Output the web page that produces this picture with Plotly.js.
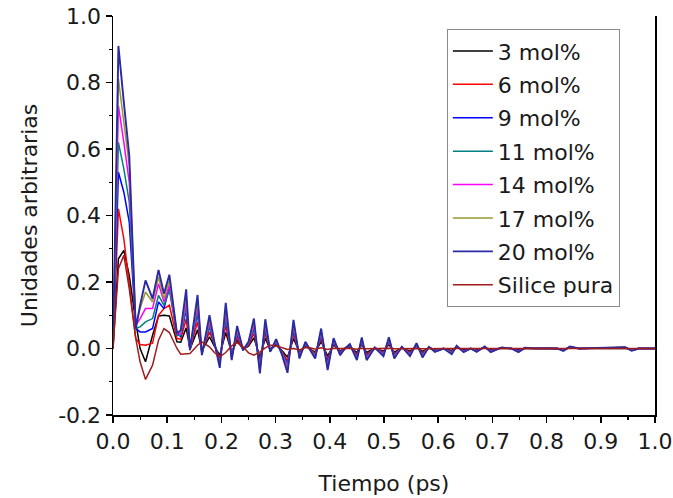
<!DOCTYPE html>
<html>
<head>
<meta charset="utf-8">
<script src="https://cdn.plot.ly/plotly-3.0.1.min.js"></script>
<style>html,body{margin:0;padding:0;background:#fff;}#chart{width:673px;height:498px;}</style>
</head>
<body>
<div id="chart"></div>
<script>
const t = [0, 0.01, 0.02, 0.03, 0.042, 0.05, 0.06, 0.073, 0.084, 0.094, 0.104, 0.118,
  0.125, 0.135, 0.142, 0.156, 0.164, 0.178, 0.187, 0.197, 0.208, 0.219,
  0.229, 0.24, 0.25, 0.26, 0.271, 0.281, 0.29, 0.301, 0.312, 0.322,
  0.333, 0.344, 0.355, 0.364, 0.373, 0.384, 0.396, 0.407, 0.419, 0.428,
  0.437, 0.45, 0.459, 0.468, 0.483, 0.499, 0.509, 0.519, 0.533, 0.548,
  0.56, 0.571, 0.583, 0.594, 0.61, 0.625, 0.634, 0.647, 0.66, 0.671,
  0.686, 0.697, 0.717, 0.735, 0.748, 0.76, 0.78, 0.8, 0.82, 0.831,
  0.843, 0.86, 0.88, 0.9, 0.92, 0.945, 0.957, 0.97, 1.0];

const s3 = [0, 0.27, 0.295, 0.22, 0.08, 0.0, -0.04, 0.04, 0.098, 0.1, 0.098, 0.02,
  0.019, 0.062, -0.002, 0.056, -0.007, 0.035, 0.007, -0.02, 0.048, -0.012,
  0.024, -0.002, 0.007, 0.032, -0.026, 0.031, -0.004, 0.01, -0.007, -0.026,
  0.03, -0.011, 0.007, -0.002, -0.011, 0.021, -0.023, 0.011, -0.007, 0.0,
  0.005, -0.012, 0.012, -0.012, 0.001, -0.008, 0.012, -0.011, 0.002, -0.008,
  0.006, -0.009, 0.002, -0.004, 0.0, -0.006, 0.003, -0.004, 0.0, -0.004,
  0.002, -0.004, 0.001, 0.0, -0.004, 0.001, 0.0, 0.0, 0.0, -0.002,
  0.002, 0.0, 0.0, 0.0, 0.001, 0.001, -0.002, 0.0, 0.0];

const s6 = [0, 0.42, 0.33, 0.19, 0.03, 0.012, 0.01, 0.016, 0.1, 0.12, 0.13, 0.03,
  0.028, 0.089, -0.003, 0.08, -0.01, 0.05, 0.01, -0.029, 0.068, -0.018,
  0.034, -0.003, 0.01, 0.045, -0.038, 0.044, -0.005, 0.014, -0.01, -0.037,
  0.043, -0.015, 0.01, -0.003, -0.015, 0.03, -0.033, 0.016, -0.01, 0.0,
  0.007, -0.018, 0.017, -0.018, 0.002, -0.012, 0.017, -0.015, 0.003, -0.012,
  0.008, -0.014, 0.003, -0.005, 0.0, -0.009, 0.004, -0.006, 0.0, -0.005,
  0.003, -0.006, 0.002, 0.0, -0.006, 0.001, 0.0, 0.0, 0.0, -0.004,
  0.003, 0.0, 0.0, 0.0, 0.001, 0.002, -0.004, 0.0, 0.0];

const s9 = [0, 0.53, 0.47, 0.38, 0.06, 0.05, 0.05, 0.06, 0.14, 0.12, 0.185, 0.045,
  0.036, 0.116, -0.003, 0.105, -0.013, 0.065, 0.013, -0.038, 0.089, -0.023,
  0.044, -0.003, 0.013, 0.059, -0.049, 0.057, -0.007, 0.018, -0.013, -0.047,
  0.056, -0.02, 0.013, -0.003, -0.02, 0.039, -0.042, 0.02, -0.013, 0.0,
  0.008, -0.023, 0.021, -0.023, 0.002, -0.015, 0.022, -0.02, 0.003, -0.015,
  0.01, -0.018, 0.003, -0.007, 0.0, -0.011, 0.005, -0.007, 0.0, -0.007,
  0.004, -0.007, 0.002, 0.0, -0.007, 0.001, 0.0, 0.001, 0.0, -0.005,
  0.004, 0.0, 0.001, 0.0, 0.001, 0.003, -0.005, 0.0, 0.0];

const s11 = [0, 0.62, 0.54, 0.44, 0.06, 0.065, 0.08, 0.09, 0.16, 0.13, 0.175, 0.04,
  0.039, 0.125, -0.004, 0.113, -0.014, 0.07, 0.014, -0.041, 0.096, -0.025,
  0.048, -0.004, 0.014, 0.063, -0.053, 0.062, -0.007, 0.02, -0.014, -0.051,
  0.06, -0.021, 0.014, -0.004, -0.021, 0.042, -0.046, 0.022, -0.014, 0.0,
  0.009, -0.025, 0.023, -0.025, 0.002, -0.016, 0.024, -0.021, 0.004, -0.016,
  0.011, -0.019, 0.004, -0.007, 0.0, -0.012, 0.006, -0.008, 0.0, -0.007,
  0.004, -0.008, 0.002, 0.0, -0.008, 0.001, 0.0, 0.001, 0.0, -0.005,
  0.004, 0.0, 0.001, 0.0, 0.001, 0.003, -0.005, 0.0, 0.0];

const s14 = [0, 0.73, 0.62, 0.5, 0.07, 0.09, 0.12, 0.12, 0.195, 0.14, 0.19, 0.045,
  0.044, 0.142, -0.004, 0.129, -0.016, 0.08, 0.016, -0.046, 0.11, -0.028,
  0.054, -0.004, 0.016, 0.072, -0.06, 0.07, -0.008, 0.022, -0.016, -0.058,
  0.069, -0.024, 0.016, -0.004, -0.024, 0.048, -0.052, 0.025, -0.016, 0.0,
  0.01, -0.028, 0.026, -0.028, 0.002, -0.018, 0.027, -0.024, 0.004, -0.018,
  0.013, -0.022, 0.004, -0.008, 0.0, -0.014, 0.006, -0.009, 0.0, -0.008,
  0.005, -0.009, 0.002, 0.0, -0.009, 0.002, 0.0, 0.001, 0.0, -0.006,
  0.005, 0.0, 0.001, 0.0, 0.002, 0.003, -0.006, 0.0, 0.0];

const s17 = [0, 0.81, 0.68, 0.55, 0.07, 0.12, 0.17, 0.14, 0.215, 0.15, 0.205, 0.05,
  0.05, 0.16, -0.005, 0.145, -0.018, 0.09, 0.018, -0.052, 0.123, -0.032,
  0.061, -0.005, 0.018, 0.081, -0.068, 0.079, -0.009, 0.025, -0.018, -0.066,
  0.077, -0.027, 0.018, -0.005, -0.027, 0.054, -0.059, 0.028, -0.018, 0.0,
  0.012, -0.032, 0.03, -0.032, 0.003, -0.021, 0.031, -0.027, 0.005, -0.021,
  0.014, -0.024, 0.005, -0.009, 0.0, -0.015, 0.007, -0.01, 0.0, -0.009,
  0.005, -0.01, 0.003, 0.0, -0.01, 0.002, 0.0, 0.001, 0.0, -0.006,
  0.005, 0.0, 0.001, 0.0, 0.002, 0.004, -0.006, 0.0, 0.0];

const s20 = [0, 0.91, 0.74, 0.58, 0.06, 0.13, 0.205, 0.15, 0.236, 0.165, 0.222, 0.045,
  0.055, 0.178, -0.005, 0.161, -0.02, 0.10, 0.02, -0.058, 0.137, -0.035,
  0.068, -0.005, 0.02, 0.09, -0.075, 0.088, -0.01, 0.028, -0.02, -0.073,
  0.086, -0.03, 0.02, -0.005, -0.03, 0.06, -0.065, 0.031, -0.02, 0.0,
  0.013, -0.035, 0.033, -0.035, 0.003, -0.023, 0.034, -0.03, 0.005, -0.023,
  0.016, -0.027, 0.005, -0.01, 0.0, -0.017, 0.008, -0.011, 0.0, -0.01,
  0.006, -0.011, 0.003, 0.0, -0.011, 0.002, 0.0, 0.001, 0.0, -0.007,
  0.006, 0.0, 0.001, 0.0, 0.002, 0.004, -0.007, 0.0, 0.0];

const sSil = [0, 0.24, 0.28, 0.18, 0.03, -0.04, -0.093, -0.05, 0.025, 0.06, 0.048, 0.0,
  -0.017, -0.017, -0.015, 0.01, 0.02, 0.005, -0.012, -0.025, -0.012, 0.008,
  0.018, 0.005, -0.013, -0.02, -0.01, 0.002, 0.01, 0.008, 0.002, -0.003,
  0.0, -0.004, 0.003, 0.002, -0.002, 0.002, -0.003, 0.001, 0.0, 0.0,
  0.001, -0.002, 0.001, -0.001, 0.0, -0.001, 0.001, -0.001, 0.0, 0.0,
  0.0, -0.001, 0.0, 0.0, 0.0, 0.0, 0.0, 0.0, 0.0, 0.0,
  0.0, 0.0, 0.0, 0.0, 0.0, 0.0, 0.0, 0.0, 0.0, 0.0,
  0.0, 0.0, 0.0, 0.0, 0.0, 0.0, 0.0, 0.0, 0.0];

const seriesNames = ['3 mol%', '6 mol%', '9 mol%', '11 mol%', '14 mol%', '17 mol%', '20 mol%', 'Silice pura'];
const seriesValues = [s3, s6, s9, s11, s14, s17, s20, sSil];
const yTickVals = [-0.2, 0.0, 0.2, 0.4, 0.6, 0.8, 1.0];
const yTickText = ['-0.2', '0.0', '0.2', '0.4', '0.6', '0.8', '1.0'];
const lineColors = ['#000000', '#ff0000', '#0000ff', '#008080', '#ff00ff', '#999933', '#2a2aa5', '#a01c1c'];

const FONT = 'DejaVu Sans, Liberation Sans, sans-serif';
const TXT = '#1a1a1a';

const traces = seriesNames.map((name, i) => ({
  type: 'scatter',
  mode: 'lines',
  x: t,
  y: seriesValues[i],
  name: name,
  legendgroup: 'g' + i,
  line: {color: lineColors[i], width: i === 6 ? 1.9 : 1.5}
}));

const layout = {
  width: 673,
  height: 498,
  margin: {l: 113, r: 18, t: 16, b: 83},
  paper_bgcolor: '#ffffff',
  plot_bgcolor: '#ffffff',
  font: {family: FONT, size: 22, color: TXT},
  showlegend: true,
  legend: {
    x: 0.616, y: 0.967, xanchor: 'left', yanchor: 'top',
    bordercolor: '#8a8a8a', borderwidth: 1, bgcolor: '#ffffff',
    font: {family: FONT, size: 22, color: TXT},
    itemwidth: 40,
    tracegroupgap: 1.8
  },
  xaxis: {
    range: [0, 1.0],
    dtick: 0.1, tick0: 0, tickformat: '.1f',
    ticks: 'outside', ticklen: 6, tickwidth: 1.5, tickcolor: '#000',
    minor: {dtick: 0.05, ticks: 'outside', ticklen: 3, tickwidth: 1.2, tickcolor: '#000'},
    showline: true, linecolor: '#000', linewidth: 1.5, mirror: false,
    showgrid: false, zeroline: false,
    tickfont: {family: FONT, size: 22, color: TXT},
    title: {text: 'Tiempo (ps)', font: {family: FONT, size: 22, color: TXT}, standoff: 22}
  },
  yaxis: {
    range: [-0.2, 1.0],
    tickmode: 'array', tickvals: yTickVals, ticktext: yTickText,
    ticks: 'outside', ticklen: 6, tickwidth: 1.5, tickcolor: '#000',
    minor: {tickmode: 'linear', tick0: 0, dtick: 0.1, ticks: 'outside', ticklen: 3, tickwidth: 1.2, tickcolor: '#000'},
    showline: true, linecolor: '#000', linewidth: 1.5, mirror: true,
    showgrid: false, zeroline: false,
    tickfont: {family: FONT, size: 22, color: TXT},
    title: {text: 'Unidades arbitrarias', font: {family: FONT, size: 22, color: TXT}, standoff: 14}
  }
};

Plotly.newPlot('chart', traces, layout, {staticPlot: true, displayModeBar: false});
</script>
</body>
</html>
